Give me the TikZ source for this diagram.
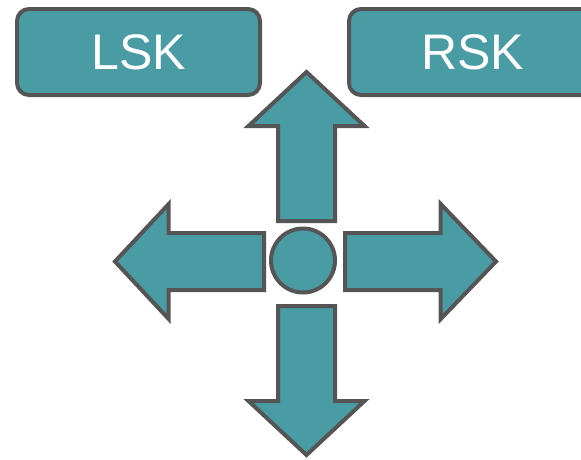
\documentclass[tikz,border=0pt]{standalone}
\usepackage{fontspec}
\setmainfont{Liberation Sans}
\definecolor{teal1}{HTML}{4A9CA4}
\definecolor{edge1}{HTML}{555555}
\tikzset{
  shapefill/.style={fill=teal1, draw=edge1, line width=4pt, line join=miter},
  keybox/.style={shapefill, rounded corners=12pt, minimum height=86pt, inner sep=0pt, text=white, font=\fontsize{50}{50}\selectfont}
}
\begin{document}
\begin{tikzpicture}[x=1pt,y=-1pt]
\useasboundingbox (0,0) rectangle (581,459);
\clip (0,0) rectangle (581,459);
\node[keybox, minimum width=243pt] (lsk) at (138.5,52) {LSK};
\node[keybox, minimum width=247pt] (rsk) at (472.5,52) {RSK};
% up arrow
\draw[shapefill] (306.5,72) -- (364.5,126) -- (335,126) -- (335,221) -- (278,221) -- (278,126) -- (248.5,126) -- cycle;
% down arrow
\draw[shapefill] (306.5,455) -- (364.5,401) -- (335,401) -- (335,306) -- (278,306) -- (278,401) -- (248.5,401) -- cycle;
% left arrow
\draw[shapefill] (115,261.5) -- (168.7,204) -- (168.7,233) -- (264,233) -- (264,290) -- (168.7,290) -- (168.7,319) -- cycle;
% right arrow
\draw[shapefill] (496,261.5) -- (440.7,204) -- (440.7,233) -- (345,233) -- (345,290) -- (440.7,290) -- (440.7,319) -- cycle;
% centre circle
\node[shapefill, circle, minimum size=64pt, inner sep=0pt] (hub) at (303,260.5) {};
\end{tikzpicture}
\end{document}
